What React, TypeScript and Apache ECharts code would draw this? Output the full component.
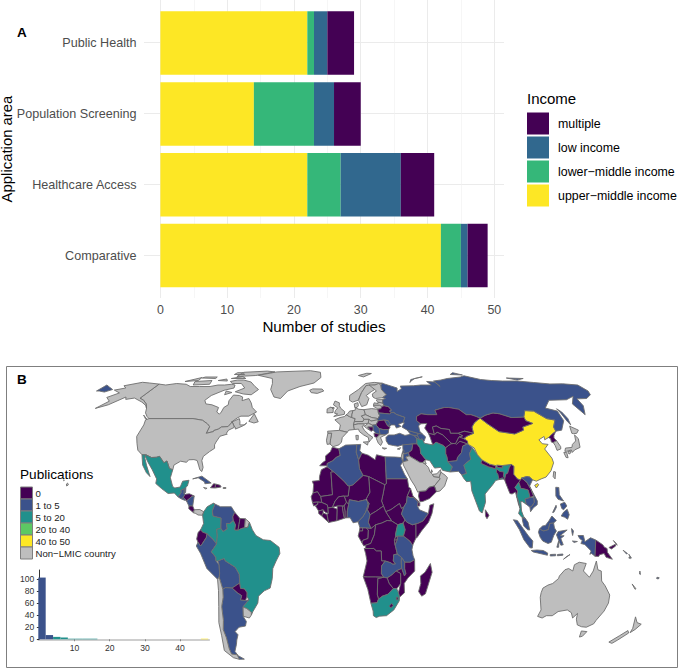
import React, { useEffect, useRef } from "react";
import * as echarts from "echarts";

const AREAS = ["Comparative", "Healthcare Access", "Population Screening", "Public Health"];
const INCOME_LEGEND = ["multiple", "low income", "lower\u2212middle income", "upper\u2212middle income"];
const UPPER_MIDDLE = [42, 22, 14, 22];
const LOWER_MIDDLE = [3, 5, 9, 1];
const LOW_INCOME = [1, 9, 3, 2];
const MULTIPLE = [3, 5, 4, 4];
const X_TICKS = [0, 10, 20, 30, 40, 50];
const X_MINOR = [5, 15, 25, 35, 45];

const HIST_COUNTS = [102, 7, 4, 3, 1, 1, 1, 1, 0, 0, 0, 0, 0, 0, 0, 0, 0, 0, 0, 0, 0, 0, 1];
const HIST_CLASS = [1, 1, 2, 2, 2, 2, 2, 2, 0, 0, 0, 0, 0, 0, 0, 0, 0, 0, 0, 0, 0, 0, 4];

const PUB_LABELS = ["0", "1 to 5", "5 to 20", "20 to 40", "40 to 50", "Non\u2212LMIC country"];
const PUB_COLORS = ["#440154", "#3B528B", "#21908C", "#5DC863", "#FDE725", "#BEBEBE"];
const ZERO = ["Morocco","Mauritania","Mali","Senegal","Guinea-Bissau","Guinea","Sierra Leone","Liberia","Ivory Coast","Burkina Faso","Ghana","Togo","Benin","Niger","Chad","Libya","Sudan","South Sudan","CAR","Equatorial Guinea","Gabon","Congo","DRC","Angola","Namibia","Botswana","Zimbabwe","Mozambique","Madagascar","Lesotho","Eswatini","Kenya","Eritrea","Djibouti","Somalia","Rwanda","Burundi","Yemen","Iraq","Kazakhstan","Uzbekistan","Turkmenistan","Kyrgyzstan","Tajikistan","Afghanistan","Mongolia","Nepal","Bhutan","Bangladesh","Myanmar","Laos","Sri Lanka","North Korea","Papua New Guinea","Belarus","Romania","Bosnia","Albania","Honduras","Costa Rica","Haiti","Dominican Republic","Guyana","Suriname","Ecuador","Paraguay"];
const ONE_TO_FIVE = ["Russia","Ukraine","Moldova","Serbia","Bulgaria","Turkey","Georgia","Armenia","Azerbaijan","Syria","Jordan","Lebanon","Algeria","Tunisia","Egypt","Nigeria","Cameroon","Ethiopia","Tanzania","Malawi","Zambia","Pakistan","Vietnam","Cambodia","Malaysia","Indonesia","Philippines","Guatemala","Belize","El Salvador","Nicaragua","Cuba","Venezuela","Peru","Bolivia","Argentina","Solomon Islands","Vanuatu","Fiji"];
const FIVE_TO_TWENTY = ["Mexico","Colombia","Brazil","Iran","India","Thailand","Uganda","South Africa"];
const FORTY_TO_FIFTY = ["China"];

const SHAPES: Record<string, string[]> = {
  Canada: [
    "-141 69.6,-135 69,-128 70,-120 69.5,-115 68,-108 68,-100 68,-95 69,-90 69,-85 69.5,-82 69,-81 67,-87 65.5,-93 62,-94.8 59,-92.5 57,-88 56.5,-82.5 55,-82 52.5,-79.5 51.3,-79 52.5,-79 55,-77 56.5,-78 58.7,-77.5 62.3,-73 62,-70 61,-69 58.8,-65 60,-62 57.5,-60 55,-56 52.5,-60 50.2,-65 50.2,-67 49.3,-70 47.2,-65.5 49,-64.5 47.5,-64 46,-61 46,-60 47,-62 45.5,-66 44,-66.5 45,-67.5 45.5,-69.3 47.4,-71 45.2,-75 45,-76.5 44,-79 43.3,-79 42.8,-83 42,-82.5 45.2,-84.5 46.5,-88.5 48.2,-95 49,-123 49,-125 50,-128 52,-130 54.5,-133 57,-137 59,-141 60.2",
    "-59 47.7,-57 51.5,-53 47.5,-55.5 46.9",
    "-128 50.8,-123.5 48.4,-125 48.8",
    "-80 73.5,-72 71.5,-66 68,-62 66,-65 62.5,-71 63,-78 64.5,-73 67,-78 70,-85 70,-89 72,-85 73.5",
    "-117 72,-105 73,-102 69.5,-114 69",
    "-125 72,-118 76,-116 73",
    "-90 77,-75 78,-62 82,-70 83,-90 81.5",
    "-92 75,-80 75,-85 77",
    "-85 65,-80 64,-84 62.5",
    "-117 75.5,-105 75,-106 76.5,-116 76.5",
    "-95 79,-86 79,-90 81,-95 81",
    "-100 73,-92 72.5,-95 74.5",
  ],
  USA: [
    "-123 49,-95 49,-88.5 48.2,-84.5 46.5,-82.5 45.2,-83 42,-79 42.8,-79 43.3,-76.5 44,-75 45,-71 45.2,-69.3 47.4,-67.5 45.5,-67 44.8,-70 43.5,-70.7 42,-70 41.6,-74 40.6,-75.5 38,-76 36.8,-75.5 35.3,-78 33.9,-81 31.8,-81.3 30,-80 27,-80.4 25.2,-81.7 26,-82.8 28,-84 30,-86 30.4,-89 30.3,-90 29.2,-93.5 29.7,-97 28,-97.2 26,-99.2 26.5,-101.4 29.8,-103 29,-106.5 31.8,-108.2 31.4,-111 31.3,-114.8 32.5,-117.1 32.5,-120.5 34.5,-122.5 37.5,-124.3 40.5,-124 46,-124.7 48.4",
    "-141 69.6,-141 60.2,-137 59,-133 57,-130 54.5,-132 56,-137 58,-145 60.3,-150 59.5,-152 61,-158 56.5,-164 54.5,-160 58.5,-165 60.7,-161 63.7,-168 65.6,-162 67,-166 68.5,-157 71.2,-150 70.5",
    "-155.5 20.2,-154.8 19.5,-155.7 19,-156 19.8",
    "-158.2 21.6,-157.7 21.4,-158 21.2",
  ],
  Greenland: ["-73 78.2,-60 82,-30 83.5,-20 81.5,-18 76,-22 70.5,-32 68,-40 65,-43 60,-48 61,-53 66,-54 70,-58 75"],
  Iceland: ["-24 65.5,-22 66.4,-15 66.3,-13.6 65,-18 63.4,-22.5 63.9"],
  Mexico: [
    "-114.8 32.5,-111 31.3,-108.2 31.4,-106.5 31.8,-103 29,-101.4 29.8,-99.2 26.5,-97.2 26,-97.8 22.5,-95.8 18.8,-94.5 18.2,-91.5 18.6,-90.5 21,-87 21.4,-87.5 19,-88.3 18.5,-89.1 17.9,-91 17.2,-90.6 16.5,-92.2 14.6,-94.5 16.2,-98 16,-102 18,-105.5 20,-105.5 22,-109 26,-112.5 29.5,-114.7 31.7",
    "-117.1 32.5,-115 32.5,-114.7 31,-112.8 28,-109.5 23,-112 24.7,-115 28,-116 30.5",
  ],
  Guatemala: ["-92.2 14.6,-90.6 16.5,-91 17.2,-89.1 17.9,-89 15.9,-88.3 15.7,-89.3 14.5,-90.2 13.8"],
  Belize: ["-89.1 17.9,-88.3 18.5,-88.2 16.5,-89 15.9"],
  Honduras: ["-89.3 14.5,-88.3 15.7,-86 15.9,-83.2 15,-84.7 14.7,-87.3 13,-87.8 13.4"],
  "El Salvador": ["-90.2 13.8,-89.3 14.5,-87.8 13.4,-88 13.2"],
  Nicaragua: ["-87.3 13,-84.7 14.7,-83.2 15,-83.6 11,-85.7 11"],
  "Costa Rica": ["-85.7 11,-83.6 11,-82.6 9.5,-83 8.3,-85.7 9.9"],
  Panama: ["-83 8.3,-82.6 9.5,-79.5 9.6,-77.3 8.7,-77.9 7.3,-80.4 7.4,-81.7 8"],
  Cuba: ["-85 22,-80 23.2,-74.2 20.2,-77.7 19.9,-78 20.7,-82 22.5"],
  Jamaica: ["-78.3 18.4,-76.3 18.1,-77 17.8"],
  Haiti: ["-74.4 18.3,-72.8 19.9,-71.7 19.8,-71.7 18.2"],
  "Dominican Republic": ["-71.7 19.8,-69 19.3,-68.4 18.6,-71.7 18.2"],
  "Puerto Rico": ["-67.2 18.4,-65.7 18.4,-65.7 18,-67.2 18"],
  Colombia: ["-77.3 8.7,-75.5 10.7,-72 12.2,-71.3 11.5,-72.5 9,-72 7,-67.5 6.2,-67.5 2,-69.8 1.7,-69.5 -1,-70 -4.2,-72 -2.3,-75.2 -0.1,-77.5 0.5,-78.8 1.4,-77.2 4,-77.9 7.3"],
  Venezuela: ["-71.3 11.5,-71.9 12,-68 10.7,-62 10.7,-60 8.5,-61 6.7,-60.7 5.2,-62.5 4,-64.5 4,-64 1.8,-66.3 0.8,-67.5 2,-67.5 6.2,-72 7,-72.5 9"],
  Guyana: ["-60 8.5,-57 6,-57.5 3.5,-58 1.3,-59.9 1.4,-59.5 3.5,-60.7 5.2,-61 6.7"],
  Suriname: ["-57 6,-54 5.9,-54.3 2.3,-56 2,-58 1.3,-57.5 3.5"],
  "French Guiana": ["-54 5.9,-51.7 4.5,-52.5 2.5,-54.3 2.3"],
  Ecuador: ["-78.8 1.4,-77.5 0.5,-75.2 -0.1,-75.6 -1.6,-78.3 -4.5,-79 -5,-80.3 -3.5,-81 -2.2,-80.1 0.5"],
  Peru: ["-80.3 -3.5,-79 -5,-78.3 -4.5,-75.6 -1.6,-75.2 -0.1,-72 -2.3,-70 -4.2,-73 -7.3,-70.6 -9.5,-70.6 -11,-69 -12.5,-69 -16,-69.4 -17.5,-70.4 -18.3,-76 -14,-79 -8,-81.3 -5"],
  Bolivia: ["-69.6 -11,-66 -10,-65.3 -11,-60 -13.5,-58 -16.3,-58 -19.8,-62.6 -22,-66.3 -21.8,-68 -22.5,-69.4 -17.5,-69 -16,-69 -12.5"],
  Paraguay: ["-58 -19.8,-62.6 -22,-60 -24,-57.6 -25.3,-58.6 -27.2,-55.7 -27.4,-54.6 -25.6,-54.3 -24,-55.6 -22.3,-57.8 -22.1"],
  Brazil: ["-51.7 4.5,-50 1.5,-48 -0.8,-44 -2.5,-40 -2.8,-35.2 -5.5,-34.8 -8,-37 -11,-39 -14,-39.5 -18,-41 -22,-44.5 -23.2,-48 -25.5,-48.7 -28.5,-52.2 -32.2,-53.4 -33.7,-53.2 -32.5,-55.5 -30.9,-57.6 -30.2,-53.8 -27.1,-54.6 -25.6,-54.3 -24,-55.6 -22.3,-57.8 -22.1,-58 -19.8,-58 -16.3,-60 -13.5,-65.3 -11,-66 -10,-69.6 -11,-70.6 -11,-70.6 -9.5,-73 -7.3,-70 -4.2,-69.5 -1,-69.8 1.7,-67.5 2,-66.3 0.8,-64 1.8,-64.5 4,-62.5 4,-60.7 5.2,-59.5 3.5,-59.9 1.4,-58 1.3,-56 2,-54.3 2.3,-52.5 2.5"],
  Uruguay: ["-57.6 -30.2,-55.5 -30.9,-53.2 -32.5,-53.4 -33.7,-54.9 -35,-58.4 -34.2"],
  Argentina: [
    "-66.3 -21.8,-62.6 -22,-60 -24,-57.6 -25.3,-58.6 -27.2,-55.7 -27.4,-53.8 -27.1,-57.6 -30.2,-58.4 -34.2,-57 -36.5,-58 -38.5,-62 -39,-65 -41,-63.8 -42.5,-65.5 -45,-66.5 -47,-69 -50.5,-68.4 -52.4,-72 -52,-72 -49,-71.5 -44,-71.8 -40,-70.5 -36,-69.8 -30,-68.3 -26,-68 -22.5",
    "-68.6 -52.6,-65.2 -54.8,-68.6 -54.9",
  ],
  Chile: ["-69.4 -17.5,-68 -22.5,-68.3 -26,-69.8 -30,-70.5 -36,-71.8 -40,-71.5 -44,-72 -49,-72 -52,-68.4 -52.4,-68.6 -52.6,-68.6 -54.9,-72 -54,-75.5 -50,-74 -43,-73.5 -37,-71.5 -30,-70.5 -23,-70.4 -18.3"],
  Norway: ["5 59,7 58,10.8 59,12.2 61,14 64,18 68.5,25 69,29 69.8,31 70.3,25 71.1,18 70,12 66,5.2 62"],
  Sweden: ["11.2 59,13 55.5,16.5 56.5,18.5 60,17 62,21 64.5,24 66,23.5 68,20.5 69,18 68.5,14 64,12.2 61"],
  Finland: ["21.5 61,23 60,28 60.5,31.5 62.5,29 66,29.5 69,28 70,25 69,20.5 69,24 66,25 65,21.5 63"],
  Denmark: ["8.3 55,8.1 57,10.6 57.7,10.8 56,9.8 55"],
  UK: ["-5.5 50,1.3 51.2,1.6 52.7,-1 54.5,-2 56,-2 57.6,-5 58.6,-6 56.5,-3 54.8,-4.5 53.3,-5 51.8,-3 51.4", "-8 55,-5.5 55,-5.5 54.2,-7.5 54.2"],
  Ireland: ["-10 52,-6 52.2,-6 54,-7.5 55.3,-10 54.2"],
  France: ["-1.8 43.4,3 42.5,4 43.5,7.5 43.8,7 46,8.2 49,4.5 50,2.5 51,1.5 50,-1.5 49.5,-4.7 48.4,-1.2 46"],
  Spain: ["-9 43,-1.8 43.4,3 42.5,0 40,-0.5 38,-2 36.8,-5.5 36,-7.4 37.2,-7 39.5,-6.5 42,-8.8 42"],
  Portugal: ["-8.8 42,-6.5 42,-7 39.5,-7.4 37.2,-9 37,-9.5 38.8"],
  Benelux: ["2.5 51,4.5 50,6 49.5,6.2 51,7 53.3,4.8 53,3.5 51.5"],
  Germany: ["6 49.5,8.2 49,7.6 47.6,13 47.6,13.8 48.7,12.3 50.3,15 51,14.3 53.8,11 54,8.7 54.9,8.5 53.5,7 53.3,6.2 51"],
  Austria: ["7 46,7.6 47.6,13 47.6,13.8 48.7,17 48.7,16.3 46.8,13.5 46.5,10 46.5"],
  Italy: ["7 46,7.5 43.8,10 44,10.5 42.8,13 41.2,15.7 40,16 38,17 39,18.5 40,16 41.5,13.5 43.5,12.3 45.3,13.7 45.7,13.5 46.5,10 46.5", "12.5 38,15.6 38.2,15 36.7", "8.2 41,9.7 41,9.5 39,8.4 39"],
  Poland: ["14.3 53.8,15 51,18.8 49.5,22.8 49,24 50.5,23.5 52,23.5 54,19.5 54.4"],
  Czechia: ["12.3 50.3,15 51,18.8 49.5,22.8 49,22.2 48.4,18 47.8,17 48.7,13.8 48.7"],
  Hungary: ["16.3 46.8,17 48.7,18 47.8,22.2 48.4,22.8 48,21 46.2,18.8 45.9"],
  Lithuania: ["21 55.5,21 56.3,25 56.3,26.6 55.6,25.5 54.3,23.5 54,22.8 54.8"],
  Latvia: ["21 56.3,21.7 57.6,24.3 57.2,24.4 58,27.5 57.5,28.2 56,26.6 55.6,25 56.3"],
  Estonia: ["23.5 58.7,24.4 58,27.5 57.5,28 59.4,23.7 59.3"],
  Belarus: ["23.5 52,30.6 51.4,32 52.2,31 53,32.5 53.5,30.8 55.5,28.2 56,26.6 55.6,25.5 54.3,23.5 54"],
  Ukraine: ["22.2 48.4,24 50.5,23.5 52,30.6 51.4,32 52.2,33.5 52.3,35 51.2,40 49.6,38.3 47.2,35 46.3,36.5 45.3,33.5 44.5,32.8 46,30.5 46,29.7 45.3,28.2 45.5,29 48,26.6 48.3,22.8 48"],
  Moldova: ["26.6 48.3,29 48,30 46.5,28.2 45.5"],
  Romania: ["22.8 48,26.6 48.3,28.2 45.5,29.7 45,28.6 43.8,25.5 43.7,22.7 44.3,21 46"],
  Bulgaria: ["22.7 44.3,25.5 43.7,28.6 43.8,28 42,26.2 41.3,22.9 41.4"],
  Croatia: ["13.7 45.3,16.3 46.8,18.8 45.9,19.2 45,15.8 45,17.7 43,15.2 44.3"],
  Bosnia: ["15.8 45,19.2 45,19 43.5,17.7 43"],
  Serbia: ["18.8 45.9,21 46,22.7 44.3,22.9 41.4,20.5 42,19 43.5,19.2 45"],
  Albania: ["19.3 42,20.5 42,22.9 41.4,20.8 40,19.5 40.4"],
  Greece: ["20.5 39.5,20.8 40,22.9 41.4,26.2 41.3,23 40,24 38,22.8 36.5,21.5 37.5", "23.6 35.5,26.2 35.3,24.8 34.9"],
  Cyprus: ["32.5 35,34.5 35.6,33.8 34.8"],
  Turkey: ["26.3 40,28 41.2,31.5 41.2,35 42,38 41,41.5 41.5,43.5 41,44.8 39.7,44.5 37.2,42 37.2,38 36.8,36.5 36.3,36 36.8,33 36.2,30.5 36.5,27.5 37,26.3 38.5"],
  Georgia: ["40 43.5,46.5 41.9,45.5 41,43.5 41,41.5 41.5"],
  Armenia: ["43.5 41,45.5 41,46.5 39,44.8 39.7"],
  Azerbaijan: ["45.5 41,46.5 41.9,48.6 41.8,50.3 40.3,49 38.4,46.5 39"],
  Syria: ["36 36.8,42 37.2,41 34.5,38.8 33.4,36 33,35.8 35"],
  Iraq: ["42 37.2,44.5 37.2,46 35.5,46 33,48.5 30.3,47.7 30,46.5 29.1,44.7 29.2,39 32,38.8 33.4,41 34.5"],
  Jordan: ["38.8 33.4,39 32,37 31.5,38 30,35 29.4,35.5 31.5,35.7 32.7"],
  Israel: ["35 29.5,34.3 31.4,35 33.1,35.7 32.7,35.5 31.5"],
  Lebanon: ["35 33.1,36 34.6,36.6 34.2,35.8 33.2"],
  "Saudi Arabia": ["34.9 29.4,38 30,37 31.5,39 32,44.7 29.2,46.5 29.1,47.7 28.5,49.5 27,50.2 25,51.5 24,52 23,55.2 22.7,55.6 22,52 19,49 18.5,47 17,43.3 16.8,42.5 16.5,41 19,39 21.5,37 25,35.2 28"],
  Kuwait: ["46.5 29.1,47.7 30,48.4 28.6,47.7 28.5"],
  Qatar: ["50.8 24.8,51.2 26,51.6 25"],
  UAE: ["51.5 24,54 24.2,56.3 26,56.4 24.9,55.2 22.7,52 23"],
  Oman: ["55.2 22.7,56.4 24.9,58.7 23.6,59.8 22.5,57.8 19,55 17,53 16.7,52 19,55.6 22"],
  Yemen: ["43.3 16.8,47 17,49 18.5,52 19,53 16.7,49 14,45 12.8,43.5 12.7,42.8 15"],
  Iran: ["44.8 39.7,46.5 39,48 39.5,49 37.5,53.8 36.8,56 38,60 36.6,61.2 35.6,60.6 33,61 31.5,61 29.5,63.3 27.2,61.7 25,57.5 25.7,56.5 27,53 26.7,50.5 30,48.5 30.3,46 33,46 35.5,44.5 37.2"],
  Afghanistan: ["61.2 35.6,64.5 37.2,66.5 37.4,70.5 38.4,74.8 37.2,71.5 36.3,70 33.5,67 31.3,66.3 29.9,61 29.5,61 31.5,60.6 33"],
  Pakistan: ["61 29.5,66.3 29.9,67 31.3,70 33.5,71.5 36.3,74.8 37.2,77 35.5,74.5 33,74.5 30.5,70 28,71 24.4,68.2 23.7,66.5 25.3,61.7 25,63.3 27.2"],
  India: ["74.5 33,77 35.5,79 32.5,81 30.2,80 28.8,84 27.3,88 26.4,88.2 27.8,89 27,92 26.8,92 27.8,97.3 28.3,96 27,94.5 24.5,93.3 24,92.3 22,92 22,89 21.7,87 21.3,85 19.5,80.3 15.8,80.2 12.5,78 8.2,76.5 9,73 17,72.8 21,70.4 20.8,69 22.3,68.2 23.7,71 24.4,70 28,74.5 30.5"],
  Nepal: ["80 28.8,81 30.2,85 28.4,88.2 27.8,88 26.4,84 27.3"],
  Bhutan: ["89 27,89.2 28,92 27.8,92 26.8"],
  Bangladesh: ["88.1 25,88.8 26.3,89.9 25.3,92.4 25,91.8 23.3,92.5 21.2,91 22.5,89 21.8,88.8 24"],
  "Sri Lanka": ["79.8 9.5,81.8 7.3,80.6 5.9,79.8 7"],
  China: [
    "73.7 39.5,75 40.5,80 42,80.5 45,83 47,85.7 48.3,87.8 49.2,91 46.5,96 42.8,105 41.7,111.5 43.5,112 45,119.5 46.7,116 48,116 49.8,120 53.3,125.5 53,130 49,134.7 48.3,131.2 45,131 43,127.5 41.5,124.3 40,121.5 39,122 40.5,118 39,119.2 37.3,122.5 37,119.5 35,121.8 31,122 29,119.5 25.5,116 22.8,113 22,110 21,108 21.6,106.6 22.8,105 23,102 22.4,101.5 21.3,99.5 22,97.8 24,98.7 27.5,97.3 28.3,92 27.8,89.2 28,88.2 27.8,85 28.4,81 30.2,79 32.5,78 35.5,75 37",
    "108.7 19.3,110.5 20,111 19.5,109.5 18.2",
  ],
  Taiwan: ["121 25.2,122 25,120.9 22,120.1 23"],
  Mongolia: ["87.8 49.2,91 46.5,96 42.8,105 41.7,111.5 43.5,112 45,119.5 46.7,116 48,116 49.8,108 49.5,102 51.5,98 52,92 50.7"],
  "North Korea": ["124.3 40,127.5 41.5,131 43,128.3 41,127.5 39.8,128.4 38.6,126 37.8,125 38,125.3 39.5"],
  "South Korea": ["126 37.8,128.4 38.6,129.5 36,129 35,126.5 34.4,126.5 36.5"],
  Japan: [
    "130.9 34,132 35.4,136 35.7,137 37,139.8 38.5,141 41.2,142 39.5,140.8 35.7,137 34.6,135 33.5,135 34.6,132 34",
    "140 42,141.5 45.4,145.3 43.5,143 42,141 41.8",
    "130 33.5,131.7 33.5,131.3 31.2,130.2 31.3",
    "132.5 33.8,134.5 34.2,134 33.3,132.7 32.8",
  ],
  Russia: [
    "28 59.4,30 60,28 60.5,31.5 62.5,29 66,29.5 69,31 70.3,33 69.5,41 67,40 64.7,44 66.5,44 68.3,54 68.5,60 69,68 69,67 72,73 71.5,74 68,73 72.5,80 73.5,87 75,100 76.5,105 77.7,113 74,120 73,128 72.5,140 72.5,150 71,160 69.7,170 69.8,180 69,180 65,177 62.5,170 60,163 59.8,162 56,156.7 51,156 57,163 61.5,155 59.3,142.5 59,135 54.7,141 53,140 48,135 43.5,131 43,131.2 45,134.7 48.3,130 49,125.5 53,120 53.3,116 49.8,108 49.5,102 51.5,98 52,92 50.7,87.8 49.2,85.7 50,83 51,80 51,77 54,71 55,68 55,61 53.5,61 51,55 51,51 51.5,47.5 50,47 48,49 46.5,47.5 45.5,47.5 43,48.6 41.8,46.5 41.9,40 43.5,37 45,39 47,38.3 47.2,40 49.6,35 51.2,33.5 52.3,32 52.2,31 53,32.5 53.5,30.8 55.5,28.2 56,27.5 57.5",
    "-180 69,-175 67.5,-170 66,-173 64.3,-178 65,-180 65",
    "142 54.3,143.3 52.5,143.5 49,142.7 46,142 47.5,142 52",
    "53 71,56 74,68 76.7,60 75,55 72.5",
    "95 79,105 78.5,100 81",
    "137 75.5,150 75,142 73.5",
  ],
  Svalbard: ["14 78,22 80.3,26 80,18 76.6"],
  Kazakhstan: ["47 48,47.5 50,51 51.5,55 51,61 51,61 53.5,68 55,71 55,77 54,80 51,83 51,85.7 50,87.8 49.2,85.7 48.3,83 47,80.5 45,80 42,75 43,70.7 42,66 42,66 43.8,61 44.3,58.5 45.5,56 45,56 41.3,52.5 42,51 44.5,53 46.7,49 46.5"],
  Uzbekistan: ["56 45,58.5 45.5,61 44.3,66 43.8,66 42,70.7 42,73 40.8,70.5 40.3,67.5 37.3,65 37.5,61 41.2,58 42.5,56 41.3"],
  Turkmenistan: ["52.5 42,56 41.3,58 42.5,61 41.2,65 37.5,64.5 37.2,61.2 35.6,60 36.6,56 38,53.8 36.8,53 40"],
  Kyrgyzstan: ["70.7 42,75 43,80 42,75 40.5,73 39.5,70 40,73 40.8"],
  Tajikistan: ["67.5 37.3,70.5 40.3,73 39.5,75 38.5,74.8 37.2,70.5 38.4,68 37"],
  Myanmar: ["92.3 20.8,94.3 16,95.5 15.8,97.5 16.6,98.5 12,99.2 10,98.7 13,98 15,98.8 17,97.5 18.5,100 20.5,101.1 21.5,99.5 22,97.8 24,98.7 27.5,97.3 28.3,96 27,94.5 24.5,93.3 24,92.3 22"],
  Thailand: ["97.5 18.5,98.8 17,98 15,98.7 13,99.2 10,98.3 8,100 6.5,102 6,101 6.9,100 9,100 12.8,101 12.7,102.9 11.7,102.5 13.8,105.5 14.4,104.8 17.4,102 18,100.8 18,100 20.5"],
  Laos: ["100 20.5,101.1 21.5,102 22.4,104.5 20.5,106.5 17.5,107.5 15,105.5 14.4,104.8 17.4,102 18,100.8 18"],
  Vietnam: ["102 22.4,105 23,106.6 22.8,108 21.6,105.8 19,107 16.8,109.3 13,109 11.5,106.7 10.3,105 8.7,104.8 10.5,106 11,107.5 12.5,107.5 15,106.5 17.5,104.5 20.5"],
  Cambodia: ["102.9 11.7,104.8 10.5,106 11,107.5 12.5,107.5 14.5,105.5 14.4,102.5 13.8"],
  Malaysia: [
    "100.2 6.4,102 6,103.4 4.5,104.2 1.4,103 1.5,101 3,100.4 5",
    "109.6 1.8,111.4 3,113 3.2,115 5,116.8 7,119.2 5.2,117.6 4.2,115.5 4,114.5 1.5,111.8 1",
  ],
  Indonesia: [
    "95.3 5.5,97.5 5.2,100.5 2,103.5 -1,106 -3,105.8 -5.8,104.5 -5.7,101 -2.5,98.5 1.5",
    "105.3 -6.8,108.5 -6.6,112 -6.8,114.5 -7.8,114.4 -8.7,109 -7.8,106.5 -7.4",
    "109 0.5,109.6 1.8,111.8 1,114.5 1.5,115.5 4,117.6 4.2,118 2.2,119 1,117.5 -0.8,116.3 -3.5,114.5 -4,111.5 -3,110 -1.5",
    "119.5 -5.5,120.4 -2.8,119 -0.5,120 0.8,125 1.4,121 -0.9,123.3 -0.9,121.5 -2,123 -4.5,121.7 -4.7,120.5 -3,120.5 -5.5",
    "116 -8.4,119 -8.3,119 -8.9,116 -9",
    "120 -8.4,123 -8.2,123 -8.7,120 -8.9",
    "123.5 -10.3,127 -8.4,125 -9.3",
    "127.5 2,128.5 1,128 -0.8,127.6 0.5",
    "128 -3,130.8 -3.2,129 -3.6",
    "131 -0.8,134 -0.8,135 -3.3,138 -1.7,141 -2.6,141 -9.1,139 -8,138 -8.3,138.7 -7,135 -4.4,132.8 -4,133.5 -2.8,132 -2",
  ],
  "Papua New Guinea": [
    "141 -2.6,145 -4.5,146 -5.5,147.5 -6,147.8 -7.5,150.8 -10.3,147.2 -9.5,146 -8,143.5 -8.5,143 -9.2,141 -9.1",
    "148.5 -5.6,152 -4.3,152.2 -5,150 -6.2",
    "150.8 -2.8,153 -4.7,152.7 -4.2",
  ],
  Philippines: [
    "120.5 18.5,122.2 18.4,122 15.5,124 13,121 13.7,120 15",
    "122 7,123.5 8.6,125.5 9.7,126.5 7.5,125.5 5.7,124 6.5",
    "122 11.8,124.5 12.5,125.5 11,123.5 9.5,122.5 10",
    "117.3 8.4,119.5 11.3,119.6 10.5,118 8.5",
  ],
  "Solomon Islands": ["156.5 -6.7,159 -8,158.5 -8.2", "159.8 -8.3,161.3 -9.8,161 -10", "160 -9.4,160.8 -9.8,160 -9.9"],
  Vanuatu: ["167.2 -15,167.8 -16.4,167.3 -16.2"],
  "New Caledonia": ["164 -20.2,167 -22.3,166.5 -22.5"],
  Fiji: ["177.4 -17.5,178.7 -17.7,178.3 -18.2,177.3 -18"],
  Australia: [
    "114 -22,116.5 -20.7,119 -20,122 -18,122.3 -17,125 -14.5,127 -14,129.5 -15,130 -12.5,132.5 -11.5,136.5 -12,135.5 -15,139.3 -17.5,141 -15,142 -11,143.5 -14.5,145.5 -15,146.5 -19,149 -21,153 -25,153.5 -28.5,152.7 -32,150.5 -36,150 -37.5,146.5 -39,143.5 -38.8,140.5 -38,138.5 -35.5,137.8 -33,136 -35,134 -32.7,131 -31.5,126 -32.2,123.5 -34,120 -34,118 -35,115 -34.3,115.7 -31.5,113.5 -26,113.5 -24",
    "144.7 -40.7,148.3 -41,147.5 -43.2,146 -43.6",
  ],
  "New Zealand": [
    "172.8 -34.5,175.5 -37,178.5 -37.7,176.5 -40,175 -41.5,174.7 -39.5",
    "172.7 -40.5,174.3 -41.7,171 -45,169 -46.6,166.5 -46,170 -43",
  ],
  Morocco: ["-5.9 35.8,-2 35.1,-1.2 32.2,-3.6 31.3,-5.5 29.9,-8.7 28.7,-8.7 27.7,-13 27.7,-11.5 29,-9.7 30,-9.8 32,-7 33.8"],
  Mauritania: ["-17 21,-13 21.3,-13 23,-12 26,-8.7 27.3,-4.8 25,-6.5 25,-5.5 15.5,-12.2 14.8,-14 16.7,-16.5 16.2,-16.2 19.5"],
  Algeria: ["-1.2 32.2,-2 35.1,2 36.7,8.6 36.9,8.2 33.5,9.5 30.2,9.9 26.5,11.9 23.5,6 19.4,4 19,3.2 19,1.2 20.8,-4.8 25,-8.7 27.3,-8.7 28.7,-5.5 29.9,-3.6 31.3"],
  Tunisia: ["8.6 36.9,11 37,10.3 34.3,11.5 33.2,9.5 30.2,8.2 33.5"],
  Libya: ["11.5 33.2,15.2 32.3,19 30.3,20 32.5,25 31.6,25 20,24 19.5,15 23,11.9 23.5,9.9 26.5,9.5 30.2"],
  Egypt: ["25 31.6,31 31.5,34.2 31.3,34.9 29.5,33.5 27.8,35.5 24,37 22,25 22"],
  Sudan: ["25 22,37 22,37.5 18.5,38.5 18,36.5 15,36 12.5,34.3 10.5,33 10,32 12,27 9.5,24.2 8.7,23 11,22 13,23 16,24 19.5,25 20"],
  "South Sudan": ["24.2 8.7,27 9.5,32 12,33 10,34.3 10.5,33 7.8,35 5.4,33.9 4.2,30.8 3.5,27.5 5"],
  Chad: ["15 23,24 19.5,23 16,22 13,23 11,19 9,15.5 7.5,14 9.5,15 12,14 13,13.5 14,15.5 16.5"],
  Niger: ["4 19,6 19.4,11.9 23.5,15 23,15.5 16.5,13.5 14,13 13.5,9 12.8,4 13.5,3.6 11.7,2.3 12.5,1 15,3.3 15"],
  Mali: ["-12.2 14.8,-5.5 15.5,-6.5 25,-4.8 25,1.2 20.8,3.2 19,4 19,3.3 15,1 15,-2 14.7,-4 13,-5.5 10.5,-8 10.2,-8.5 11.5,-11.5 12.4"],
  Senegal: ["-17.5 14.7,-16.5 16.2,-14 16.7,-12.2 14.8,-11.5 12.4,-13.7 12.6,-16.7 12.4"],
  "Guinea-Bissau": ["-16.7 12.4,-13.7 12.6,-13.7 11.7,-16 11"],
  Guinea: ["-15 11,-13.7 11.7,-13.7 12.6,-11.5 12.4,-8.5 11.5,-8 10.2,-7.8 8,-9.5 8.5,-10.7 9.5,-13.2 9"],
  "Sierra Leone": ["-13.2 9,-10.7 9.5,-10.7 8.2,-11.5 7,-13.2 8"],
  Liberia: ["-11.5 7,-10.7 8.2,-8.5 7.6,-7.6 4.4"],
  "Ivory Coast": ["-8.5 7.6,-7.8 8,-8 10.2,-5.5 10.5,-2.8 9.7,-3 5.1,-7.6 4.4"],
  "Burkina Faso": ["-5.5 10.5,-4 13,-2 14.7,1 15,2.3 12.5,1 11,0 11,-2.8 11"],
  Ghana: ["-3 5.1,-2.8 11,0 11,0.6 8,1.2 6.1"],
  Togo: ["0 11,1 11,1.6 9,1.6 6.2,1.2 6.1,0.6 8"],
  Benin: ["1 11,2.3 12.5,3.6 11.7,2.8 9,2.7 6.3,1.6 6.2,1.6 9"],
  Nigeria: ["2.7 6.3,2.8 9,3.6 11.7,4 13.5,9 12.8,13 13.5,14 13,14.5 11.5,13 8.5,11.5 6.7,8.8 4.7,6 4.3,4.4 6.3"],
  Cameroon: ["8.8 4.7,11.5 6.7,13 8.5,14.5 11.5,14 13,15 12,14 9.5,15.5 7.5,14.5 4.5,16 2,13.3 2.2,9.8 2.3"],
  CAR: ["14.5 4.5,15.5 7.5,19 9,23 11,24.2 8.7,27.5 5,25 5.2,22 4.2,18.6 3.5,16 2"],
  "Equatorial Guinea": ["9.8 2.3,11.3 2.2,11.3 1,9.5 1"],
  Gabon: ["9.5 1,11.3 1,11.3 2.2,13.3 2.2,14.5 1.4,14.3 -2,11.5 -2.7,11 -3.8,8.8 -1"],
  Congo: ["11 -3.8,12 -5,13 -4.7,15.8 -4,17.8 -0.5,18.6 3.5,16 2,13.3 2.2,14.5 1.4,14.3 -2,11.5 -2.7"],
  DRC: ["12.2 -6,13 -5.8,13 -4.7,15.8 -4,17.8 -0.5,18.6 3.5,22 4.2,25 5.2,27.5 5,30.8 3.5,29.7 0,29.6 -1.4,29 -2.7,29.4 -4.5,30.7 -8.2,28.7 -8.5,28.5 -11,29.8 -12.2,28.3 -12.3,27 -11.7,24 -11,22 -11,21.7 -7,19 -7,17.5 -6"],
  Angola: ["12.2 -6,17.5 -6,19 -7,21.7 -7,22 -11,24 -11,22 -13,22 -16,23.4 -17.5,18.5 -17.4,14 -17.4,11.8 -17.3,13.8 -11,13 -8"],
  Zambia: ["22 -13,24 -11,27 -11.7,28.3 -12.3,29.8 -12.2,28.5 -11,28.7 -8.5,30.7 -8.2,33 -9.5,33 -11.5,33.3 -14,30.2 -15,28 -16.5,25.3 -17.8,23.4 -17.5,22 -16"],
  Tanzania: ["30.5 -1,34 -1,37.6 -3,39.2 -4.7,38.8 -6.5,39.5 -9,40.4 -10.5,38 -11.5,34.9 -11.5,33 -9.5,30.7 -8.2,29.4 -4.5,30.5 -2.5"],
  Rwanda: ["29 -2.7,29.6 -1.4,30.5 -1,30.5 -2.5"],
  Burundi: ["29 -2.7,30.5 -2.5,29.4 -4.5"],
  Uganda: ["29.7 0,30.8 3.5,33.9 4.2,35 1.5,34 -1,30.5 -1,29.6 -1.4"],
  Kenya: ["33.9 4.2,35 5.4,36 4.5,39 3.5,41 3.9,41 -1.7,39.2 -4.7,37.6 -3,34 -1,35 1.5"],
  Ethiopia: ["36 12.5,36.5 15,38 14.4,40 14.5,42.5 12.5,42 11,43 9.5,48 8,45 5,42 4,41 3.9,39 3.5,36 4.5,35 5.4,33 7.8,34.3 10.5"],
  Eritrea: ["36.5 15,38.5 18,39.7 15,43 12.7,42.5 12.5,40 14.5,38 14.4"],
  Djibouti: ["42.5 12.5,43.4 12.3,43.3 11,42 11"],
  Somalia: ["48.9 11.3,51.2 11.9,50 8,48 4.5,44 1,41.5 -1.7,41 -1.7,41 3.9,42 4,45 5,48 8"],
  Malawi: ["33 -9.5,34.9 -11.5,35 -14,35.8 -16,35 -17,33.3 -14,33 -11.5"],
  Mozambique: ["30.2 -15,33.3 -14,35 -17,35.8 -16,35 -14,34.9 -11.5,38 -11.5,40.4 -10.5,40.7 -15,37 -17.8,35 -20,35.5 -24,32.8 -26,32 -24,33 -20,32.8 -16"],
  Zimbabwe: ["25.3 -17.8,28 -16.5,30.2 -15,32.8 -16,33 -20,31 -22.3,29 -22.2,26.5 -20"],
  Botswana: ["20 -18,23.4 -17.5,25.3 -17.8,26.5 -20,29 -22.2,26 -24.7,23 -25.5,20.8 -26.8,20 -24.8"],
  Namibia: ["11.8 -17.3,14 -17.4,18.5 -17.4,23.4 -17.5,20 -18,20 -24.8,20.8 -26.8,20 -28.4,16.5 -28.6,14.5 -22.5"],
  "South Africa": ["16.5 -28.6,20 -28.4,20.8 -26.8,23 -25.5,26 -24.7,29 -22.2,31 -22.3,32 -24,32.8 -26,32.8 -27.5,30 -31.5,26 -34,22 -34.2,20 -34.8,18.3 -34,18 -32"],
  Lesotho: ["27.2 -29.8,28.5 -28.7,29.4 -29.5,28.2 -30.6"],
  Eswatini: ["31 -25.9,32 -26,32 -27.2,31 -27"],
  Madagascar: ["49.3 -12,50.5 -15.5,47.5 -24.5,45.5 -25.5,43.5 -23.5,44.4 -20,44 -17,46.5 -15.5"],
};

const LAT_OFFSET = [0, 25, 50, 73, 96, 117, 135, 150, 160, 168];
const LAT_WIDTH = [1, 0.9954, 0.9822, 0.96, 0.9216, 0.8679, 0.7986, 0.7186, 0.6213, 0.5322];

function lookup(table: number[], a: number) {
  const i = Math.min(8, Math.floor(a / 10));
  const t = a / 10 - i;
  return table[i] * (1 - t) + table[i + 1] * t;
}
function project(p: number[]) {
  const a = Math.abs(p[1]);
  return [342.3 + p[0] * 1.8 * lookup(LAT_WIDTH, a), 533.5 - Math.sign(p[1]) * lookup(LAT_OFFSET, a)];
}
function unproject(p: number[]) {
  const lat = (533.5 - p[1]) / 2.4;
  return [(p[0] - 342.3) / (1.8 * lookup(LAT_WIDTH, Math.min(89, Math.abs(lat)))), lat];
}

const rings = (name: string) =>
  SHAPES[name].map((r) => r.split(",").map((q) => q.trim().split(" ").map(Number)));

function classOf(name: string) {
  if (ZERO.includes(name)) return 0;
  if (ONE_TO_FIVE.includes(name)) return 1;
  if (FIVE_TO_TWENTY.includes(name)) return 2;
  if (FORTY_TO_FIFTY.includes(name)) return 4;
  return 5;
}

const FONT = '"Liberation Sans", Arial, sans-serif';

export default function App() {
  const ref = useRef<HTMLDivElement>(null);
  useEffect(() => {
    const names = Object.keys(SHAPES);
    const features = names.map((name) => ({
      type: "Feature",
      properties: { name },
      geometry: { type: "MultiPolygon", coordinates: rings(name).map((r) => [r]) },
    }));
    echarts.registerMap("world", { type: "FeatureCollection", features } as any);

    let x0 = Infinity, y0 = Infinity, x1 = -Infinity, y1 = -Infinity;
    names.forEach((n) =>
      rings(n).forEach((r) =>
        r.forEach((pt) => {
          const [x, y] = project(pt);
          x0 = Math.min(x0, x); x1 = Math.max(x1, x);
          y0 = Math.min(y0, y); y1 = Math.max(y1, y);
        })
      )
    );

    const chart = echarts.init(ref.current!, undefined, { renderer: "svg" });
    const stackSeries = (name: string, data: number[], color: string) => ({
      name, type: "bar", stack: "s", xAxisIndex: 2, yAxisIndex: 1, data, barWidth: 63.5,
      itemStyle: { color }, silent: true, z: 3,
    });
    const legendRows = PUB_LABELS.flatMap((label, i) => [
      { type: "rect", shape: { x: 20.5, y: 487 + i * 12, width: 12, height: 12 },
        style: { fill: PUB_COLORS[i], stroke: "#7f7f7f", lineWidth: 1 }, z: 20 },
      { type: "text", x: 35.5, y: 493.5 + i * 12,
        style: { text: label, fill: "#222", fontSize: 9.6, fontFamily: FONT, verticalAlign: "middle" }, z: 20 },
    ]);

    chart.setOption({
      animation: false,
      backgroundColor: "#fff",
      textStyle: { fontFamily: FONT },
      grid: [
        { left: 144, width: 360, top: 0, height: 298, outerBoundsMode: "none" },
        { left: 144, width: 360, top: 7.6, height: 283.4, outerBoundsMode: "none" },
        { left: 38.3, width: 171, top: 570, height: 69.3, outerBoundsMode: "none" },
      ],
      xAxis: [
        { gridIndex: 0, type: "value", min: -2.45, max: 51.45,
          name: "Number of studies", nameLocation: "middle", nameGap: 21,
          nameTextStyle: { fontSize: 15.2, color: "#000", fontFamily: FONT },
          axisLine: { show: false },
          axisTick: { show: false, customValues: X_TICKS },
          axisLabel: { customValues: X_TICKS, color: "#4D4D4D", fontSize: 12.4, margin: 6, fontFamily: FONT },
          splitLine: { show: true, lineStyle: { color: "#EBEBEB", width: 1 } } },
        { gridIndex: 0, type: "value", min: -2.45, max: 51.45,
          axisLine: { show: false },
          axisTick: { show: false, customValues: X_MINOR },
          axisLabel: { show: false, customValues: X_MINOR },
          splitLine: { show: true, lineStyle: { color: "#F0F0F0", width: 0.6 } } },
        { gridIndex: 1, type: "value", min: -2.45, max: 51.45, show: false },
        { gridIndex: 2, type: "value", min: -0.3, max: 48.3,
          axisLine: { show: true, lineStyle: { color: "#BEBEBE", width: 1.5 } },
          axisTick: { show: true, length: 2, customValues: [10, 20, 30, 40], lineStyle: { color: "#555", width: 0.6 } },
          axisLabel: { customValues: [10, 20, 30, 40], color: "#333", fontSize: 8.6, margin: 4, fontFamily: FONT },
          splitLine: { show: false } },
      ],
      yAxis: [
        { gridIndex: 0, type: "value", min: 0.4, max: 4.6,
          name: "Application area", nameLocation: "middle", nameGap: 130,
          nameTextStyle: { fontSize: 14.9, color: "#000", fontFamily: FONT },
          axisLine: { show: false },
          axisTick: { show: false, customValues: [1, 2, 3, 4] },
          axisLabel: { show: false, customValues: [1, 2, 3, 4] },
          splitLine: { show: true, lineStyle: { color: "#EBEBEB", width: 1 } } },
        { gridIndex: 1, type: "category", data: AREAS,
          axisLine: { show: false }, axisTick: { show: false },
          axisLabel: { color: "#4D4D4D", fontSize: 12.6, margin: 7.5, fontFamily: FONT },
          splitLine: { show: false } },
        { gridIndex: 2, type: "value", min: 0, max: 114.5,
          axisLine: { show: true, lineStyle: { color: "#000", width: 0.8 } },
          axisTick: { show: true, length: 2.5, customValues: [0, 20, 40, 60, 80, 100], lineStyle: { color: "#000", width: 0.8 } },
          axisLabel: { customValues: [0, 20, 40, 60, 80, 100], color: "#333", fontSize: 8.6, margin: 4, fontFamily: FONT },
          splitLine: { show: false } },
      ],
      legend: {
        left: 527, top: 112.5, orient: "vertical", itemWidth: 22, itemHeight: 22, itemGap: 2,
        data: INCOME_LEGEND.map((name) => ({ name, icon: "rect" })), selectedMode: false, padding: 0,
        textStyle: { fontSize: 12.4, color: "#000", fontFamily: FONT, padding: [0, 0, 0, 4] },
      },
      series: [
        { name: "axisHolder", type: "line", xAxisIndex: 1, yAxisIndex: 0, data: [], silent: true },
        stackSeries(INCOME_LEGEND[3], UPPER_MIDDLE, "#FDE725"),
        stackSeries(INCOME_LEGEND[2], LOWER_MIDDLE, "#35B779"),
        stackSeries(INCOME_LEGEND[1], LOW_INCOME, "#31688E"),
        stackSeries(INCOME_LEGEND[0], MULTIPLE, "#440154"),
        {
          name: "Publications map", type: "map", map: "world",
          projection: { project, unproject },
          left: x0, top: y0, width: x1 - x0, height: y1 - y0,
          roam: false, silent: true, selectedMode: false, showLegendSymbol: false,
          label: { show: false }, emphasis: { disabled: true }, z: 5,
          itemStyle: { areaColor: "#BEBEBE", borderColor: "#6E6E6E", borderWidth: 0.9 },
          data: names.map((name) => ({ name, value: classOf(name), itemStyle: { areaColor: PUB_COLORS[classOf(name)] } })),
        },
        {
          name: "Histogram", type: "bar", xAxisIndex: 3, yAxisIndex: 2, barWidth: 7.39, silent: true, z: 6,
          data: HIST_COUNTS.map((v, i) => ({
            value: [-0.3 + (i + 0.5) * 2.1, v],
            itemStyle: { color: PUB_COLORS[HIST_CLASS[i]] },
          })),
        },
      ],
      graphic: [
        { type: "rect", shape: { x: 6.5, y: 366.5, width: 671, height: 301 },
          style: { fill: "none", stroke: "#7F7F7F", lineWidth: 1 }, z: 1 },
        { type: "text", x: 17, y: 32, style: { text: "A", fontSize: 13.5, fontWeight: "bold", fill: "#000", fontFamily: FONT, verticalAlign: "middle" }, z: 20 },
        { type: "text", x: 17, y: 379.5, style: { text: "B", fontSize: 13.5, fontWeight: "bold", fill: "#000", fontFamily: FONT, verticalAlign: "middle" }, z: 20 },
        { type: "text", x: 527, y: 98, style: { text: "Income", fontSize: 15, fill: "#000", fontFamily: FONT, verticalAlign: "middle" }, z: 20 },
        { type: "text", x: 20, y: 474, style: { text: "Publications", fontSize: 13.6, fill: "#000", fontFamily: FONT, verticalAlign: "middle" }, z: 20 },
        ...legendRows,
      ],
    } as any);
    return () => chart.dispose();
  }, []);
  return <div ref={ref} style={{ position: "absolute", left: 0, top: 0, width: 678, height: 668 }} />;
}
